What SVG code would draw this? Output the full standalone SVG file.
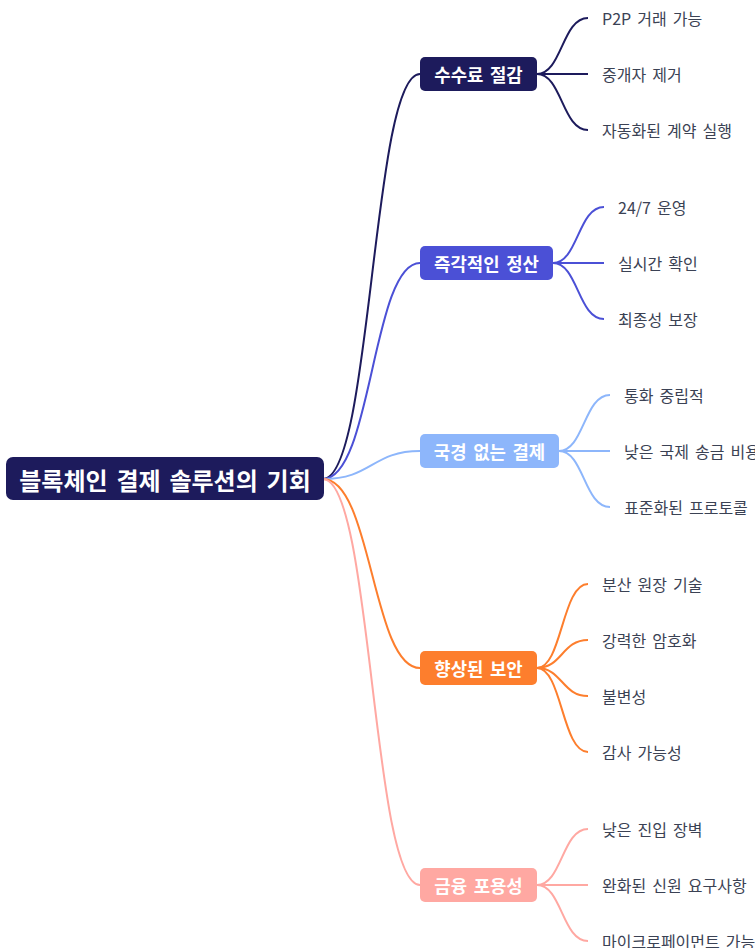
<svg xmlns="http://www.w3.org/2000/svg" width="755" height="948" viewBox="0 0 755 948">
<style>
.root-t{font-family:"Noto Sans CJK KR","Noto Sans",sans-serif;font-size:24px;font-weight:700;fill:#ffffff;word-spacing:3.4px}
.br-t{font-family:"Noto Sans CJK KR","Noto Sans",sans-serif;font-size:17.8px;font-weight:700;fill:#ffffff;word-spacing:2.6px}
.leaf-t{font-family:"Noto Sans CJK KR","Noto Sans",sans-serif;font-size:16px;fill:#3b4254;word-spacing:2.5px}
.c{fill:none;stroke-width:2}
</style>
<rect width="755" height="948" fill="#ffffff"/>
<g id="connectors">
  <path class="c" stroke="#1d1b5c" d="M323 479 C372 479 372 74 420 74"/>
  <path class="c" stroke="#4b50d6" d="M323 479 C372 479 372 263 420 263"/>
  <path class="c" stroke="#8db6fb" d="M323 479 C372 479 372 451 420 451"/>
  <path class="c" stroke="#fd7e2d" d="M323 479 C372 479 372 668 420 668"/>
  <path class="c" stroke="#ffa8a2" d="M323 479 C372 479 372 885 420 885"/>

  <path class="c" stroke="#1d1b5c" d="M537 74 C562 74 562 18 588 18"/>
  <path class="c" stroke="#1d1b5c" d="M537 74 L588 74"/>
  <path class="c" stroke="#1d1b5c" d="M537 74 C562 74 562 130 588 130"/>

  <path class="c" stroke="#4b50d6" d="M553 263 C578 263 578 207 604 207"/>
  <path class="c" stroke="#4b50d6" d="M553 263 L604 263"/>
  <path class="c" stroke="#4b50d6" d="M553 263 C578 263 578 319 604 319"/>

  <path class="c" stroke="#8db6fb" d="M559 451 C584 451 584 395 610 395"/>
  <path class="c" stroke="#8db6fb" d="M559 451 L610 451"/>
  <path class="c" stroke="#8db6fb" d="M559 451 C584 451 584 507 610 507"/>

  <path class="c" stroke="#fd7e2d" d="M537 668 C562 668 562 584 588 584"/>
  <path class="c" stroke="#fd7e2d" d="M537 668 C562 668 562 640 588 640"/>
  <path class="c" stroke="#fd7e2d" d="M537 668 C562 668 562 696 588 696"/>
  <path class="c" stroke="#fd7e2d" d="M537 668 C562 668 562 752 588 752"/>

  <path class="c" stroke="#ffa8a2" d="M537 885 C562 885 562 829 588 829"/>
  <path class="c" stroke="#ffa8a2" d="M537 885 L588 885"/>
  <path class="c" stroke="#ffa8a2" d="M537 885 C562 885 562 941 588 941"/>
</g>
<g id="root">
  <rect x="6" y="457" width="318" height="43" rx="7" fill="#1d1b5c"/>
  <text class="root-t" x="165" y="479" text-anchor="middle" dominant-baseline="central">블록체인 결제 솔루션의 기회</text>
</g>
<g id="b1">
  <rect x="420" y="57" width="117" height="34" rx="5" fill="#1d1b5c"/>
  <text class="br-t" x="478.5" y="74" text-anchor="middle" dominant-baseline="central">수수료 절감</text>
</g>
<g id="b2">
  <rect x="420" y="246" width="133" height="34" rx="5" fill="#4b50d6"/>
  <text class="br-t" x="486.5" y="263" text-anchor="middle" dominant-baseline="central">즉각적인 정산</text>
</g>
<g id="b3">
  <rect x="420" y="434" width="139" height="34" rx="5" fill="#8db6fb"/>
  <text class="br-t" x="489.5" y="451" text-anchor="middle" dominant-baseline="central">국경 없는 결제</text>
</g>
<g id="b4">
  <rect x="420" y="651" width="117" height="34" rx="5" fill="#fd7e2d"/>
  <text class="br-t" x="478.5" y="668" text-anchor="middle" dominant-baseline="central">향상된 보안</text>
</g>
<g id="b5">
  <rect x="420" y="868" width="117" height="34" rx="5" fill="#ffa8a2"/>
  <text class="br-t" x="478.5" y="885" text-anchor="middle" dominant-baseline="central">금융 포용성</text>
</g>
<g id="l1a"><text class="leaf-t" x="602" y="18" dominant-baseline="central">P2P 거래 가능</text></g>
<g id="l1b"><text class="leaf-t" x="602" y="74" dominant-baseline="central">중개자 제거</text></g>
<g id="l1c"><text class="leaf-t" x="602" y="130" dominant-baseline="central">자동화된 계약 실행</text></g>
<g id="l2a"><text class="leaf-t" x="618" y="207" dominant-baseline="central">24/7 운영</text></g>
<g id="l2b"><text class="leaf-t" x="618" y="263" dominant-baseline="central">실시간 확인</text></g>
<g id="l2c"><text class="leaf-t" x="618" y="319" dominant-baseline="central">최종성 보장</text></g>
<g id="l3a"><text class="leaf-t" x="624" y="395" dominant-baseline="central">통화 중립적</text></g>
<g id="l3b"><text class="leaf-t" x="624" y="451" dominant-baseline="central">낮은 국제 송금 비용</text></g>
<g id="l3c"><text class="leaf-t" x="624" y="507" dominant-baseline="central">표준화된 프로토콜</text></g>
<g id="l4a"><text class="leaf-t" x="602" y="584" dominant-baseline="central">분산 원장 기술</text></g>
<g id="l4b"><text class="leaf-t" x="602" y="640" dominant-baseline="central">강력한 암호화</text></g>
<g id="l4c"><text class="leaf-t" x="602" y="696" dominant-baseline="central">불변성</text></g>
<g id="l4d"><text class="leaf-t" x="602" y="752" dominant-baseline="central">감사 가능성</text></g>
<g id="l5a"><text class="leaf-t" x="602" y="829" dominant-baseline="central">낮은 진입 장벽</text></g>
<g id="l5b"><text class="leaf-t" x="602" y="885" dominant-baseline="central">완화된 신원 요구사항</text></g>
<g id="l5c"><text class="leaf-t" x="602" y="941" dominant-baseline="central">마이크로페이먼트 가능</text></g>
</svg>
